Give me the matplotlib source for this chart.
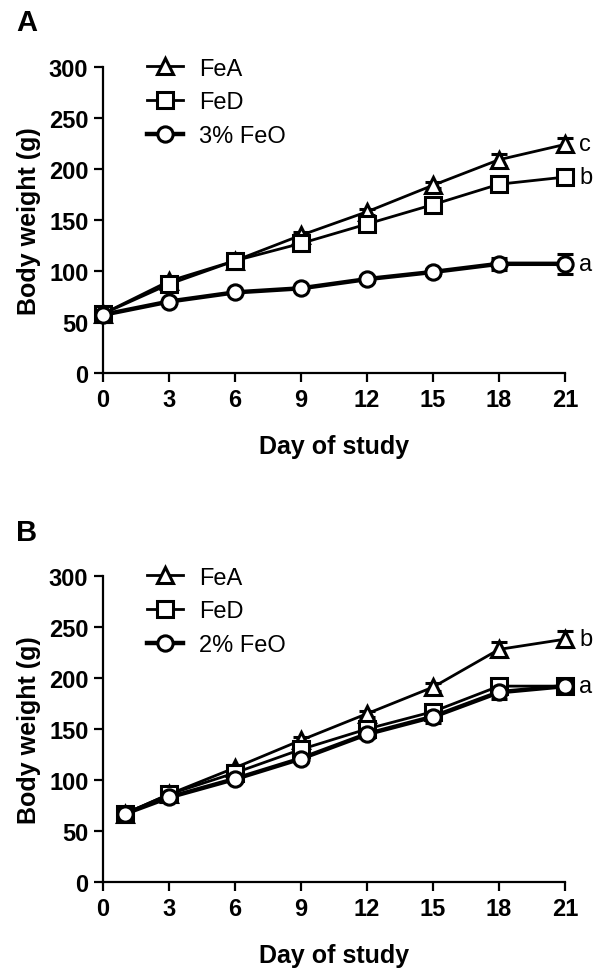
import numpy as np
import matplotlib.pyplot as plt
from matplotlib.lines import Line2D

plt.rcParams["font.family"] = ["Liberation Sans", "DejaVu Sans"]

# ======================== Panel A data ======================== #
days_a = [0, 3, 6, 9, 12, 15, 18, 21]
fea_a = [58, 90, 110, 135, 158, 184, 209, 224]
fea_a_err = [2, 3, 3, 3, 3, 3, 6, 6]
fed_a = [58, 87, 110, 127, 146, 165, 185, 192]
fed_a_err = [2, 2, 3, 3, 3, 4, 4, 4]
feo_a = [57, 70, 79, 83, 92, 99, 107, 107]
feo_a_err = [2, 2, 2, 2, 3, 3, 6, 10]
labels_a = ["FeA", "FeD", "3% FeO"]
letters_a = ["c", "b", "a"]

# ======================== Panel B data ======================== #
days_b = [1, 3, 6, 9, 12, 15, 18, 21]
fea_b = [67, 86, 112, 139, 165, 191, 228, 238]
fea_b_err = [2, 2, 3, 3, 3, 4, 7, 8]
fed_b = [67, 86, 107, 130, 150, 167, 192, 192]
fed_b_err = [2, 2, 3, 3, 4, 4, 4, 5]
feo_b = [67, 83, 101, 121, 145, 162, 186, 192]
feo_b_err = [2, 2, 3, 3, 4, 6, 7, 5]
labels_b = ["FeA", "FeD", "2% FeO"]
letters_b = ["b", "a"]

ticks_x = [0, 3, 6, 9, 12, 15, 18, 21]
ticks_y = [0, 50, 100, 150, 200, 250, 300]

markers = ["^", "s", "o"]
widths = [2.0, 2.0, 3.2]

fig = plt.figure(figsize=(6.04, 9.78), dpi=100)
ax_a = fig.add_axes([0.1705, 0.6176, 0.765, 0.313])
ax_b = fig.add_axes([0.1705, 0.0971, 0.765, 0.313])


def draw_series(ax, x, y, err, marker, lw):
    ax.errorbar(x, y, yerr=err, color="black", lw=lw, marker=marker,
                markersize=11, markerfacecolor="white", markeredgewidth=2.2,
                capsize=6, capthick=2.2, elinewidth=2.2,
                clip_on=False, zorder=3)


def style_axes(ax):
    ax.set_xlim(0, 21)
    ax.set_ylim(0, 300)
    ax.set_xticks(ticks_x)
    ax.set_yticks(ticks_y)
    for s in ["top", "right"]:
        ax.spines[s].set_visible(False)
    for s in ["left", "bottom"]:
        ax.spines[s].set_linewidth(1.6)
    ax.tick_params(direction="out", length=6.5, width=1.6, pad=4)
    for lab in ax.get_xticklabels() + ax.get_yticklabels():
        lab.set_fontsize(17)
        lab.set_fontweight("bold")
    ax.set_xlabel("Day of study", fontsize=18, fontweight="bold", labelpad=17)
    ax.set_ylabel("Body weight (g)", fontsize=18, fontweight="bold", labelpad=6)


def add_legend(ax, labels):
    handles = [Line2D([], [], color="black", lw=w, marker=m, markersize=11,
                      markerfacecolor="white", markeredgewidth=2.2)
               for m, w in zip(markers, widths)]
    ax.legend(handles, labels, loc="upper left", bbox_to_anchor=(0.05, 1.1),
              frameon=False, handlelength=1.5, handletextpad=0.7,
              labelspacing=0.5, borderpad=0.4, prop={"size": 17})


# ====================== Panel A ====================== #
for yv, ev, m, w in zip([fea_a, fed_a, feo_a], [fea_a_err, fed_a_err, feo_a_err],
                        markers, widths):
    draw_series(ax_a, days_a, yv, ev, m, w)
style_axes(ax_a)
for val, txt in zip([fea_a[-1], fed_a[-1], feo_a[-1]], letters_a):
    ax_a.text(21.65, val, txt, fontsize=17, va="center", ha="left")
add_legend(ax_a, labels_a)
fig.text(0.027, 0.976, "A", fontsize=21, fontweight="bold", va="center")

# ====================== Panel B ====================== #
for yv, ev, m, w in zip([fea_b, fed_b, feo_b], [fea_b_err, fed_b_err, feo_b_err],
                        markers, widths):
    draw_series(ax_b, days_b, yv, ev, m, w)
style_axes(ax_b)
for val, txt in zip([fea_b[-1], fed_b[-1]], letters_b):
    ax_b.text(21.65, val, txt, fontsize=17, va="center", ha="left")
add_legend(ax_b, labels_b)
fig.text(0.027, 0.455, "B", fontsize=21, fontweight="bold", va="center")

fig.savefig("out.png", dpi=100)
